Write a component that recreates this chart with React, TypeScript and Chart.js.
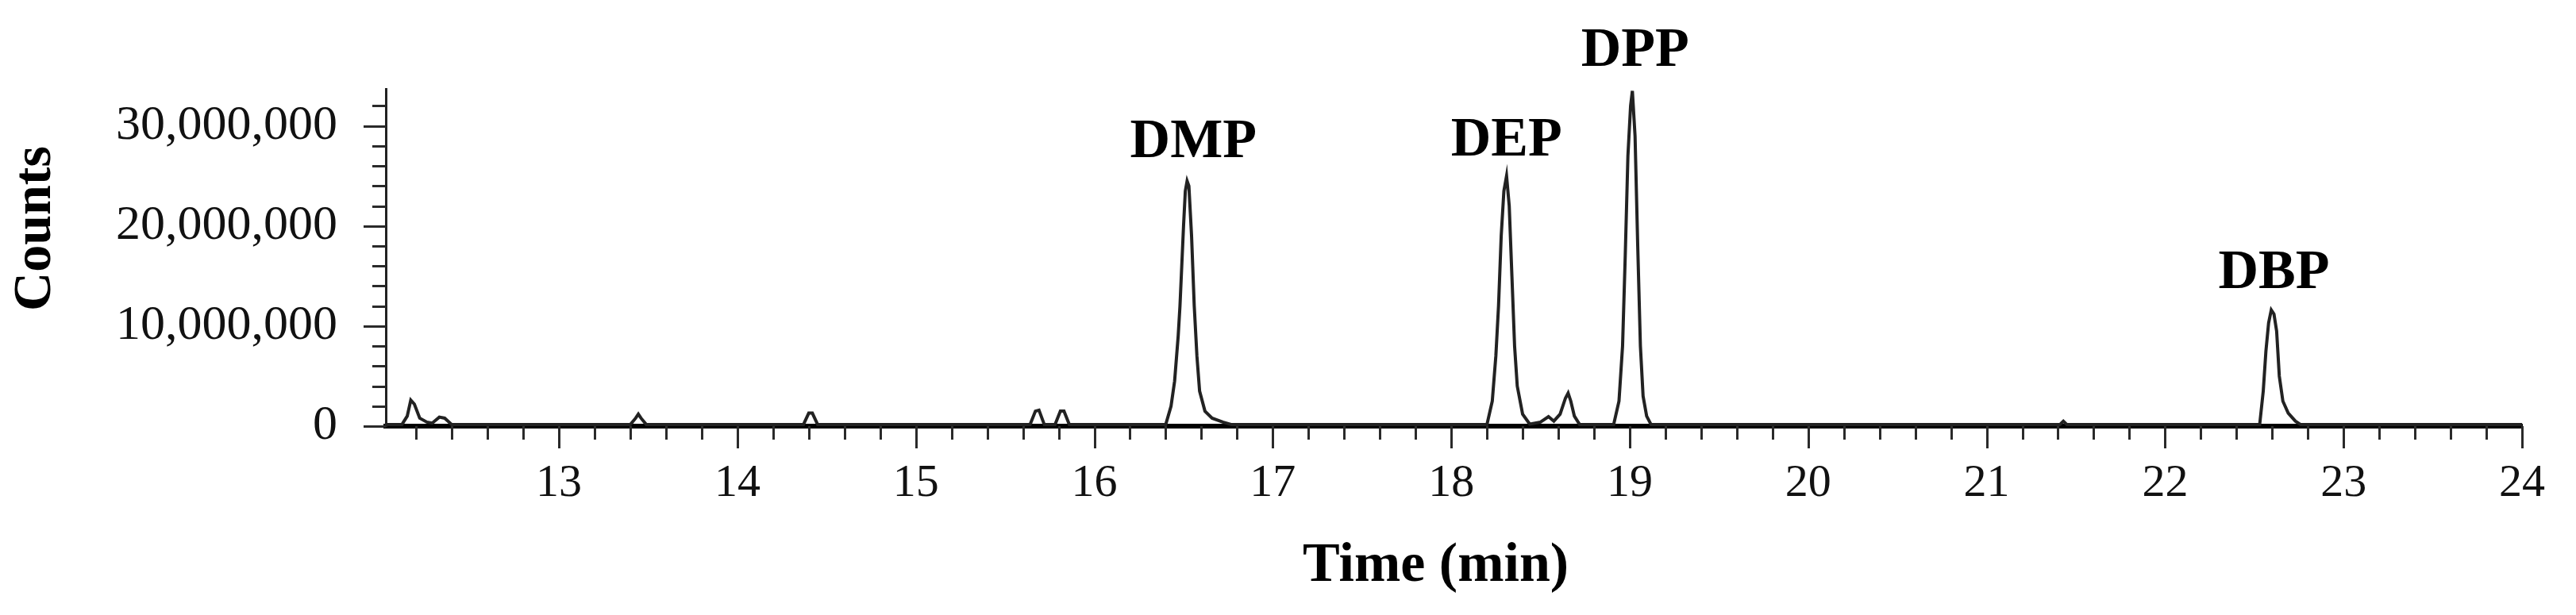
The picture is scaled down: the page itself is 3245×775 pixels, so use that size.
import React, { useEffect, useRef } from 'react';
import { Chart, registerables } from 'chart.js';

Chart.register(...registerables);

// Retention time (min)
const times = [
  12.03, 12.12, 12.15, 12.17, 12.19, 12.22, 12.26, 12.29, 12.33, 12.36, 12.40,
  13.40, 13.43, 13.445, 13.46, 13.49,
  14.37, 14.40, 14.42, 14.45,
  15.64, 15.67, 15.69, 15.72, 15.78, 15.81, 15.83, 15.86,
  16.40, 16.43, 16.45, 16.47, 16.48, 16.49, 16.50, 16.51, 16.52, 16.53, 16.545, 16.56, 16.575, 16.59, 16.62, 16.66, 16.72, 16.77,
  18.20, 18.23, 18.25, 18.265, 18.28, 18.295, 18.31, 18.325, 18.34, 18.355, 18.37, 18.40, 18.44,
  18.50, 18.545, 18.575, 18.61, 18.64, 18.655, 18.67, 18.69, 18.72,
  18.91, 18.94, 18.96, 18.975, 18.99, 19.005, 19.015, 19.03, 19.045, 19.06, 19.075, 19.095, 19.12,
  21.41, 21.43, 21.45,
  22.53, 22.55, 22.565, 22.58, 22.595, 22.61, 22.625, 22.64, 22.66, 22.69, 22.73, 22.76,
  24.0,
];

// Detector counts
const counts = [
  0.15e6, 0.15e6, 1.0e6, 2.6e6, 2.2e6, 0.8e6, 0.4e6, 0.3e6, 0.9e6, 0.8e6, 0.15e6,
  0.15e6, 0.8e6, 1.2e6, 0.8e6, 0.15e6,
  0.15e6, 1.3e6, 1.3e6, 0.15e6,
  0.15e6, 1.5e6, 1.6e6, 0.15e6, 0.15e6, 1.5e6, 1.5e6, 0.15e6,
  0.15e6, 2.0e6, 4.5e6, 9.0e6, 12.0e6, 16.0e6, 20.0e6, 23.5e6, 24.5e6, 24.0e6, 19.0e6, 12.0e6, 7.0e6, 3.5e6, 1.5e6, 0.8e6, 0.4e6, 0.15e6,
  0.15e6, 2.5e6, 7.0e6, 12.0e6, 19.0e6, 23.5e6, 25.0e6, 22.0e6, 15.0e6, 8.0e6, 4.0e6, 1.2e6, 0.2e6,
  0.4e6, 0.95e6, 0.5e6, 1.2e6, 2.8e6, 3.3e6, 2.5e6, 1.0e6, 0.15e6,
  0.15e6, 2.5e6, 8.0e6, 17.0e6, 27.0e6, 32.0e6, 33.5e6, 29.0e6, 18.0e6, 8.0e6, 3.0e6, 1.0e6, 0.15e6,
  0.15e6, 0.5e6, 0.15e6,
  0.15e6, 3.5e6, 7.5e6, 10.3e6, 11.6e6, 11.2e6, 9.5e6, 5.0e6, 2.5e6, 1.3e6, 0.5e6, 0.15e6,
  0.15e6,
];

// Peak annotations
const peakNames = ['DMP', 'DEP', 'DPP', 'DBP'];
const peakLabelTimes = [16.555, 18.31, 19.03, 22.61];
const peakLabelCounts = [28.3e6, 28.5e6, 37.4e6, 15.2e6];

// Axes
const xMin = 12.03;
const xMax = 24;
const yMin = 0;
const yMax = 33.7e6;
const xMajorTicks = [13, 14, 15, 16, 17, 18, 19, 20, 21, 22, 23, 24];
const xTickLabels = ['13', '14', '15', '16', '17', '18', '19', '20', '21', '22', '23', '24'];
const xMinorStep = 0.2;
const yMajorTicks = [0, 10000000, 20000000, 30000000];
const yTickLabels = ['0', '10,000,000', '20,000,000', '30,000,000'];
const yMinorStep = 2000000;

const xAxisTitle = 'Time (min)';
const yAxisTitle = 'Counts';

const SERIF = "'Liberation Serif', 'Times New Roman', Times, serif";

function buildXTickValues(): number[] {
  const vals: number[] = [];
  for (let v = Math.ceil(xMin / xMinorStep) * xMinorStep; v <= xMax + 1e-9; v += xMinorStep) {
    vals.push(Math.round(v * 10) / 10);
  }
  return vals;
}

function buildYTickValues(): number[] {
  const vals: number[] = [];
  for (let v = yMin; v <= yMax; v += yMinorStep) vals.push(v);
  return vals;
}

const isMajorX = (v: number) => xMajorTicks.some((m) => Math.abs(m - v) < 1e-6);
const isMajorY = (v: number) => yMajorTicks.some((m) => Math.abs(m - v) < 1);

const decorPlugin = {
  id: 'decor',
  afterDraw(chart: any) {
    const { ctx, chartArea } = chart;
    const xs = chart.scales.x;
    const ys = chart.scales.y;
    ctx.save();
    // tick marks
    ctx.strokeStyle = '#2a2a2a';
    ctx.lineWidth = 3;
    ctx.beginPath();
    xs.ticks.forEach((t: any) => {
      const px = Math.round(xs.getPixelForValue(t.value)) + 0.5;
      const len = isMajorX(t.value) ? 28 : 17;
      ctx.moveTo(px, chartArea.bottom);
      ctx.lineTo(px, chartArea.bottom + len);
    });
    ys.ticks.forEach((t: any) => {
      const py = Math.round(ys.getPixelForValue(t.value)) + 0.5;
      const len = isMajorY(t.value) ? 28 : 17;
      ctx.moveTo(chartArea.left, py);
      ctx.lineTo(chartArea.left - len, py);
    });
    ctx.stroke();

    // x axis title
    ctx.fillStyle = '#000';
    ctx.font = `bold 70px ${SERIF}`;
    ctx.textAlign = 'center';
    ctx.textBaseline = 'middle';
    ctx.fillText(xAxisTitle, chartArea.left + 0.4915 * (chartArea.right - chartArea.left), chartArea.bottom + 177);

    // y axis title
    ctx.font = `bold 68px ${SERIF}`;
    ctx.translate(45, chartArea.top + 176);
    ctx.rotate(-Math.PI / 2);
    ctx.fillText(yAxisTitle, 0, 0);
    ctx.restore();

    // peak labels
    ctx.save();
    ctx.fillStyle = '#000';
    ctx.font = `bold 70px ${SERIF}`;
    ctx.textAlign = 'center';
    ctx.textBaseline = 'middle';
    peakNames.forEach((name, i) => {
      const px = xs.getPixelForValue(peakLabelTimes[i]);
      const py = ys.getPixelForValue(peakLabelCounts[i]);
      ctx.fillText(name, px, py);
    });
    ctx.restore();
  },
};

export default function App() {
  const canvasRef = useRef<HTMLCanvasElement | null>(null);

  useEffect(() => {
    const canvas = canvasRef.current;
    if (!canvas) return;
    const data = times.map((t, i) => ({ x: t, y: counts[i] }));
    const chart = new Chart(canvas, {
      type: 'line',
      data: {
        datasets: [
          {
            label: 'Chromatogram',
            data,
            borderColor: '#222222',
            borderWidth: 4,
            pointRadius: 0,
            tension: 0,
            fill: false,
          },
        ],
      },
      options: {
        animation: false,
        responsive: false,
        devicePixelRatio: 1,
        layout: { padding: { left: 0, right: 68, top: 112, bottom: 0 } },
        plugins: {
          legend: { display: false },
          tooltip: { enabled: false },
          title: { display: false },
        },
        scales: {
          x: {
            type: 'linear',
            min: xMin,
            max: xMax,
            afterBuildTicks: (scale: any) => {
              scale.ticks = buildXTickValues().map((v) => ({ value: v }));
            },
            afterFit: (scale: any) => {
              scale.height = 238;
            },
            ticks: {
              autoSkip: false,
              maxRotation: 0,
              padding: 10,
              color: '#111',
              font: { family: SERIF, size: 58 },
              callback: (value: any) => {
                const idx = xMajorTicks.findIndex((m) => Math.abs(m - Number(value)) < 1e-6);
                return idx >= 0 ? xTickLabels[idx] : '';
              },
            },
            grid: {
              display: true,
              drawOnChartArea: false,
              drawTicks: true,
              tickLength: 28,
              tickColor: 'transparent',
            },
            border: { display: true, color: '#000', width: 6 },
            title: { display: false },
          },
          y: {
            type: 'linear',
            min: yMin,
            max: yMax,
            afterBuildTicks: (scale: any) => {
              scale.ticks = buildYTickValues().map((v) => ({ value: v }));
            },
            afterFit: (scale: any) => {
              scale.width = 486;
            },
            ticks: {
              autoSkip: false,
              padding: 33,
              color: '#111',
              font: { family: SERIF, size: 62 },
              callback: (value: any) => {
                const idx = yMajorTicks.findIndex((m) => Math.abs(m - Number(value)) < 1);
                return idx >= 0 ? yTickLabels[idx] : '';
              },
            },
            grid: {
              display: true,
              drawOnChartArea: false,
              drawTicks: true,
              tickLength: 28,
              tickColor: 'transparent',
            },
            border: { display: true, color: '#222', width: 3 },
            title: { display: false },
          },
        },
      },
      plugins: [decorPlugin],
    } as any);
    return () => chart.destroy();
  }, []);

  return (
    <div style={{ position: 'absolute', left: 0, top: 0, width: 3245, height: 775, background: '#fff' }}>
      <canvas ref={canvasRef} width={3245} height={775} style={{ width: 3245, height: 775, display: 'block' }} />
    </div>
  );
}
